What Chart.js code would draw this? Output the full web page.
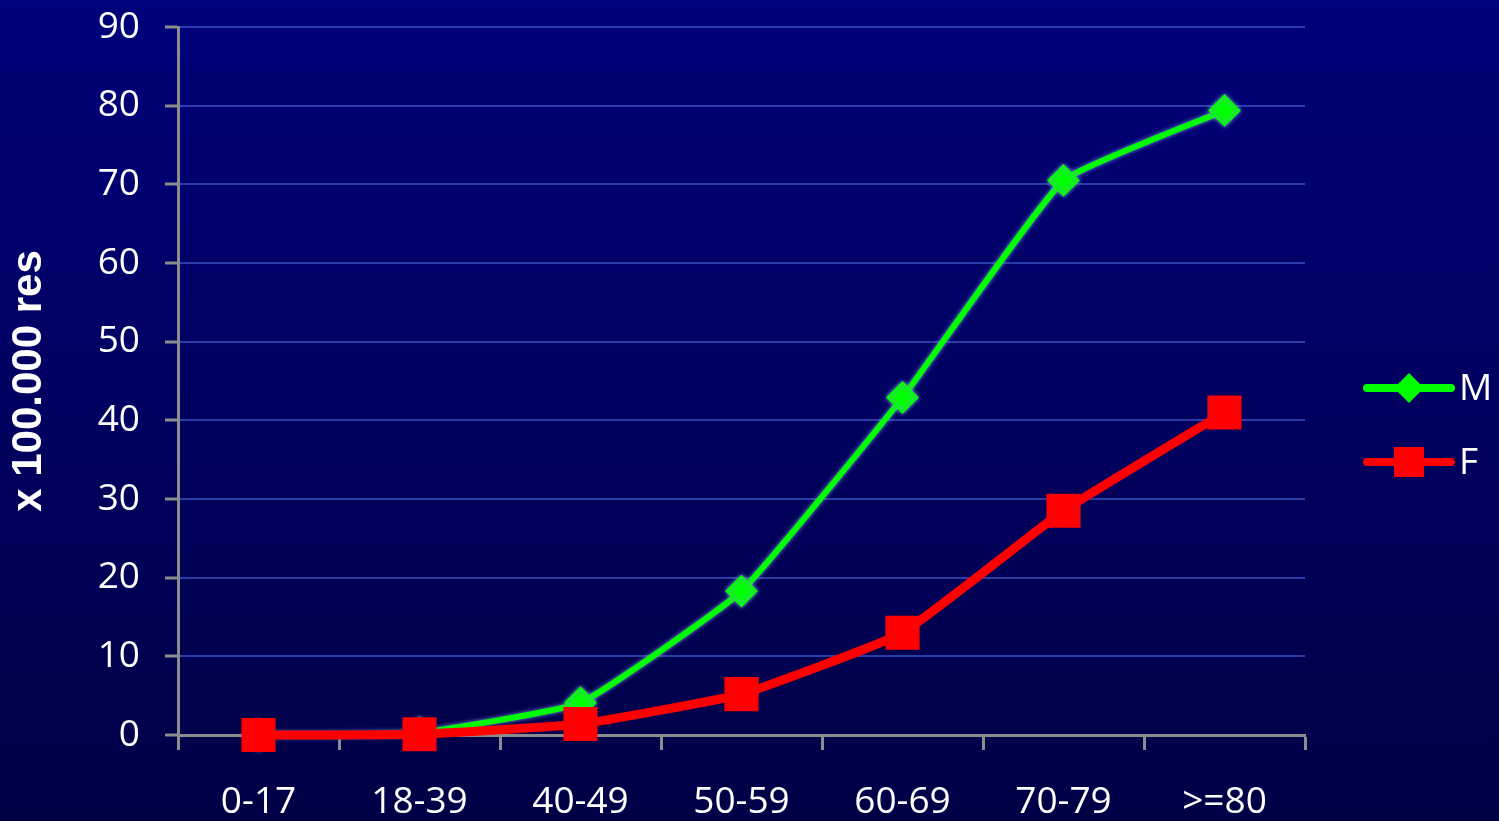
<!DOCTYPE html>
<html>
<head>
<meta charset="utf-8">
<script src="https://cdn.jsdelivr.net/npm/chart.js@4/dist/chart.umd.min.js"></script>
<style>
  html, body { margin: 0; padding: 0; background: #000060; }
  #wrap { width: 1499px; height: 821px; }
</style>
</head>
<body>
<div id="wrap"><canvas id="chart" width="1499" height="821"></canvas></div>
<script>
// fasce d'età e tassi per sesso (x 100.000 residenti)
const ageGroups = ['0-17', '18-39', '40-49', '50-59', '60-69', '70-79', '>=80'];
const maleRates = [0, 0.3, 4.1, 18.3, 42.9, 70.5, 79.4];
const femaleRates = [0, 0.1, 1.4, 5.2, 13.0, 28.5, 41.0];
const yTitle = 'x 100.000 res';

const axisGrey = '#8c8c8c';
const ctx = document.getElementById('chart').getContext('2d');

// sfondo blu sfumato
const bgPlugin = {
    id: 'bg',
    beforeDraw(chart) {
        const c = chart.ctx;
        const g = c.createLinearGradient(0, 0, 0, chart.height);
        g.addColorStop(0, '#00007a');
        g.addColorStop(1, '#000046');
        c.save();
        c.fillStyle = g;
        c.fillRect(0, 0, chart.width, chart.height);
        c.restore();
    }
};

// leggero bordo grigio-blu attorno alla linea verde
const glowPlugin = {
    id: 'glow',
    beforeDatasetDraw(chart, args) {
        if (args.index === 0) {
            chart.ctx.save();
            chart.ctx.shadowColor = 'rgba(120,150,210,1)';
            chart.ctx.shadowBlur = 4;
        }
    },
    afterDatasetDraw(chart, args) {
        if (args.index === 0) chart.ctx.restore();
    }
};

// legenda a destra: linea + marcatore + etichetta
const legendPlugin = {
    id: 'sideLegend',
    afterDraw(chart) {
        const c = chart.ctx;
        const x0 = chart.chartArea.right + 62;
        const x1 = x0 + 84;
        const mid = (x0 + x1) / 2;
        chart.data.datasets.forEach((ds, i) => {
            const y = 388 + i * 74;
            c.save();
            c.strokeStyle = ds.borderColor;
            c.lineWidth = 8;
            c.lineCap = 'round';
            c.beginPath();
            c.moveTo(x0, y);
            c.lineTo(x1, y);
            c.stroke();
            c.fillStyle = ds.pointBackgroundColor;
            c.beginPath();
            if (ds.pointStyle === 'rectRot') {
                const r = 15;
                c.moveTo(mid - r, y);
                c.lineTo(mid, y - r);
                c.lineTo(mid + r, y);
                c.lineTo(mid, y + r);
                c.closePath();
            } else {
                c.rect(mid - 15, y - 15, 30, 30);
            }
            c.fill();
            c.fillStyle = '#ffffff';
            c.font = '37px "Open Sans"';
            c.textBaseline = 'middle';
            c.fillText(ds.label, x1 + 8, y + 1);
            c.restore();
        });
    }
};

const myChart = new Chart(ctx, {
    type: 'line',
    data: {
        labels: ageGroups,
        datasets: [{
            label: 'M',
            data: maleRates,
            borderColor: '#00ff00',
            backgroundColor: '#00ff00',
            pointBackgroundColor: '#00ff00',
            pointBorderColor: '#00ff00',
            borderWidth: 6,
            pointStyle: 'rectRot',
            pointRadius: 15,
            pointBorderWidth: 2,
            tension: 0.12,
            clip: false,
            order: 1
        }, {
            label: 'F',
            data: femaleRates,
            borderColor: '#ff0000',
            backgroundColor: '#ff0000',
            pointBackgroundColor: '#ff0000',
            pointBorderColor: '#ff0000',
            borderWidth: 9,
            pointStyle: 'rect',
            pointRadius: 22,
            pointBorderWidth: 3,
            tension: 0.12,
            clip: false,
            order: 0
        }]
    },
    options: {
        responsive: false,
        animation: false,
        layout: { padding: { top: 27, right: 194, left: 0, bottom: 0 } },
        plugins: {
            legend: { display: false },
            tooltip: { enabled: false }
        },
        scales: {
            x: {
                offset: true,
                grid: {
                    offset: true,
                    drawOnChartArea: false,
                    tickLength: 15,
                    tickColor: axisGrey,
                    tickWidth: 3
                },
                border: { color: axisGrey, width: 3 },
                ticks: {
                    color: '#ffffff',
                    font: { family: 'Open Sans', size: 37 },
                    padding: 30,
                    maxRotation: 0
                },
                afterFit(scale) { scale.height = 86; }
            },
            y: {
                min: 0,
                max: 90,
                ticks: {
                    stepSize: 10,
                    color: '#ffffff',
                    font: { family: 'Open Sans', size: 37 },
                    padding: 25
                },
                grid: {
                    color: 'rgba(70,100,215,0.6)',
                    lineWidth: 2,
                    tickLength: 13,
                    tickColor: axisGrey,
                    tickWidth: 3
                },
                border: { color: axisGrey, width: 3 },
                title: {
                    display: true,
                    text: yTitle,
                    color: '#ffffff',
                    font: { family: 'Liberation Sans', size: 42, weight: 'bold' },
                    padding: { top: 4, bottom: 0 }
                },
                afterFit(scale) {
                    scale.width = 178;
                    scale.paddingTop = 0;
                    scale.paddingBottom = 0;
                }
            }
        }
    },
    plugins: [bgPlugin, glowPlugin, legendPlugin]
});
</script>
</body>
</html>
